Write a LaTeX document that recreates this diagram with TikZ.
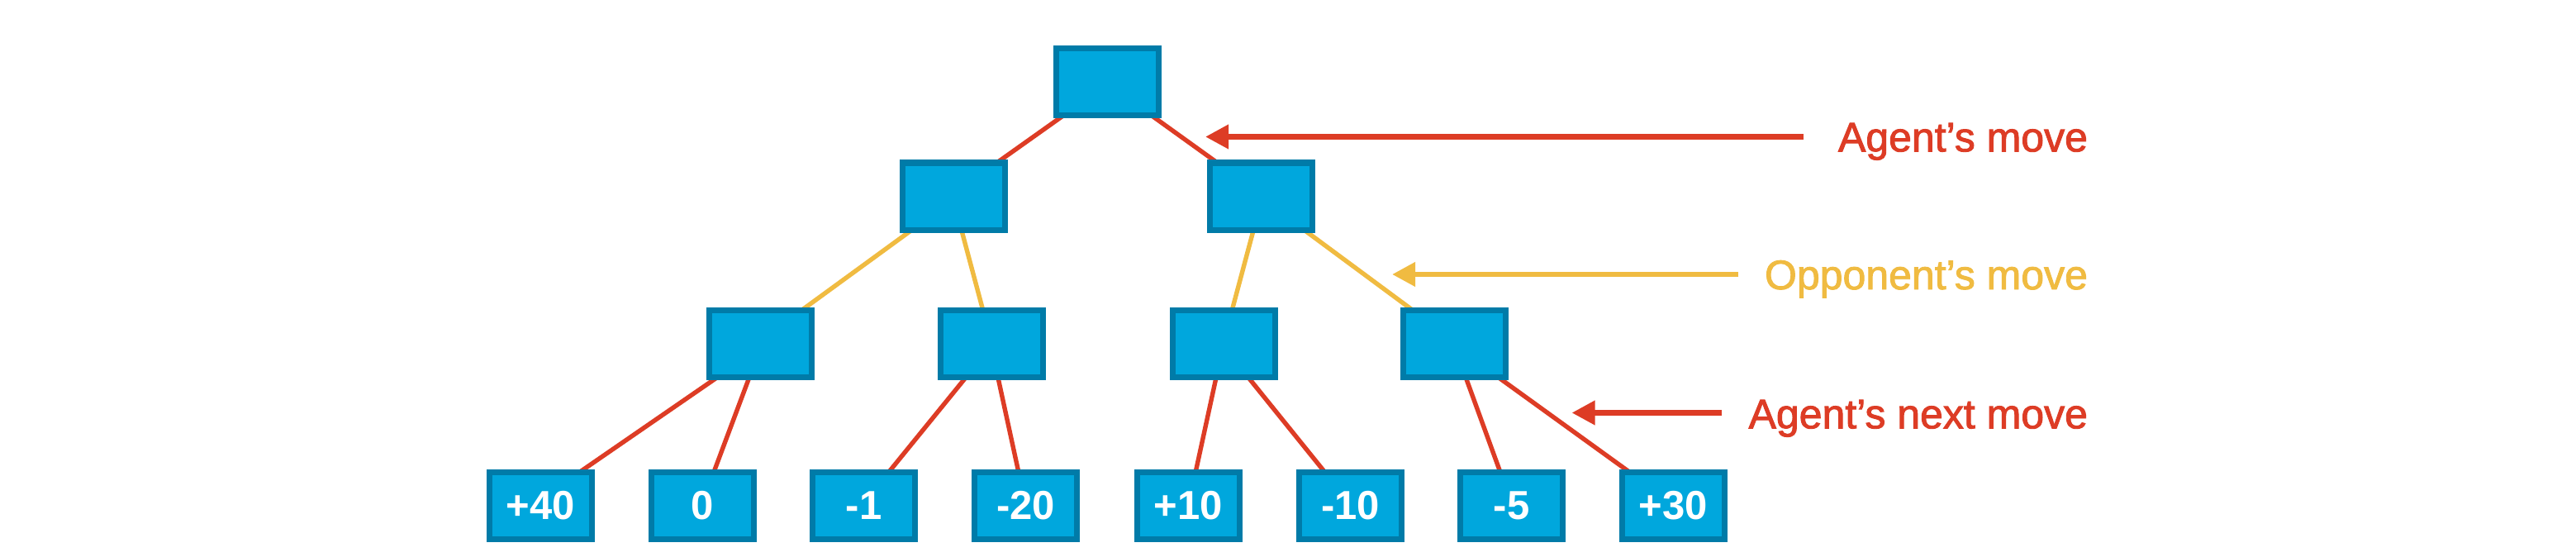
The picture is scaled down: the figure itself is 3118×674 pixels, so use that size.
\documentclass[tikz,border=0pt]{standalone}
\usepackage{fontspec}
\setmainfont{Liberation Sans}
\newfontfamily\labfont[FakeBold=1.8]{Liberation Sans}
\usetikzlibrary{arrows.meta,calc,backgrounds}
\definecolor{boxfill}{RGB}{0,167,221}
\definecolor{boxline}{RGB}{0,123,168}
\definecolor{redc}{RGB}{221,60,37}
\definecolor{yelc}{RGB}{240,187,65}
\begin{document}
\begin{tikzpicture}[x=0.5pt,y=-0.5pt,
  box/.style={draw=boxline, fill=boxfill, line width=3.5pt, minimum width=62pt,
    minimum height=40.5pt, inner sep=0pt, outer sep=0pt, text=white,
    font=\fontsize{24.5}{28}\selectfont\bfseries},
  redge/.style={draw=redc, line width=2.7pt},
  yedge/.style={draw=yelc, line width=2.7pt},
  rarrow/.style={draw=redc, line width=3.4pt, -{Triangle[length=14pt,width=14pt]}},
  yarrow/.style={draw=yelc, line width=3.4pt, -{Triangle[length=14pt,width=14pt]}},
  lab/.style={inner sep=0pt, outer sep=0pt, anchor=base east, font=\labfont\fontsize{25}{30}\selectfont}]
\useasboundingbox (0,0) rectangle (3118,674);
% nodes
\node[box] (r) at (1340.5,99) {};
\node[box] (l1a) at (1154,237.5) {};
\node[box] (l1b) at (1526.5,237.5) {};
\node[box] (l2a) at (920.5,416) {};
\node[box] (l2b) at (1200,416) {};
\node[box] (l2c) at (1481.5,416) {};
\node[box] (l2d) at (1760,416) {};
\node[box] (f1) at (654.5,611.5) {+40};
\node[box] (f2) at (850.5,611.5) {0};
\node[box] (f3) at (1045.5,611.5) {-1};
\node[box] (f4) at (1241.5,611.5) {-20};
\node[box] (f5) at (1438.5,611.5) {+10};
\node[box] (f6) at (1634.5,611.5) {-10};
\node[box] (f7) at (1829.5,611.5) {-5};
\node[box] (f8) at (2025.5,611.5) {+30};
% edges behind the boxes
\begin{pgfonlayer}{background}
\fill[white] (0,0) rectangle (3118,674);
\draw[redge] ($(r.south)+(-53,0)$) -- ($(l1a.north)+(52.5,0)$);
\draw[redge] ($(r.south)+(53,0)$) -- ($(l1b.north)+(-53,0)$);
\draw[yedge] ($(l1a.south)+(-50,0)$) -- ($(l2a.north)+(49.7,0)$);
\draw[yedge] ($(l1a.south)+(9.7,0)$) -- ($(l2b.north)+(-10.2,0)$);
\draw[yedge] ($(l1b.south)+(-9.2,0)$) -- ($(l2c.north)+(9.7,0)$);
\draw[yedge] ($(l1b.south)+(51.7,0)$) -- ($(l2d.north)+(-49.9,0)$);
\draw[redge] ($(l2a.south)+(-52.2,0)$) -- ($(f1.north)+(47.5,0)$);
\draw[redge] ($(l2a.south)+(-13.5,0)$) -- ($(f2.north)+(13.6,0)$);
\draw[redge] ($(l2b.south)+(-30.8,0)$) -- ($(f3.north)+(30.5,0)$);
\draw[redge] ($(l2b.south)+(7.9,0)$) -- ($(f4.north)+(-8.7,0)$);
\draw[redge] ($(l2c.south)+(-9.4,0)$) -- ($(f5.north)+(8.7,0)$);
\draw[redge] ($(l2c.south)+(29.3,0)$) -- ($(f6.north)+(-31.2,0)$);
\draw[redge] ($(l2d.south)+(14.1,0)$) -- ($(f7.north)+(-13.7,0)$);
\draw[redge] ($(l2d.south)+(53.5,0)$) -- ($(f8.north)+(-53.5,0)$);
\end{pgfonlayer}
% labels
\node[lab, text=redc] (t1) at (2527,183.3) {Agent’s move};
\node[lab, text=yelc] (t2) at (2527,350) {Opponent’s move};
\node[lab, text=redc] (t3) at (2527,518.3) {Agent’s next move};
% arrows
\coordinate (a1s) at (2183,165.5);
\coordinate (a1t) at (1459,165.5);
\coordinate (a2s) at (2104,332);
\coordinate (a2t) at (1685,332);
\coordinate (a3s) at (2084,499.5);
\coordinate (a3t) at (1902.5,499.5);
\draw[rarrow] (a1s) -- (a1t);
\draw[yarrow] (a2s) -- (a2t);
\draw[rarrow] (a3s) -- (a3t);
\end{tikzpicture}
\end{document}
